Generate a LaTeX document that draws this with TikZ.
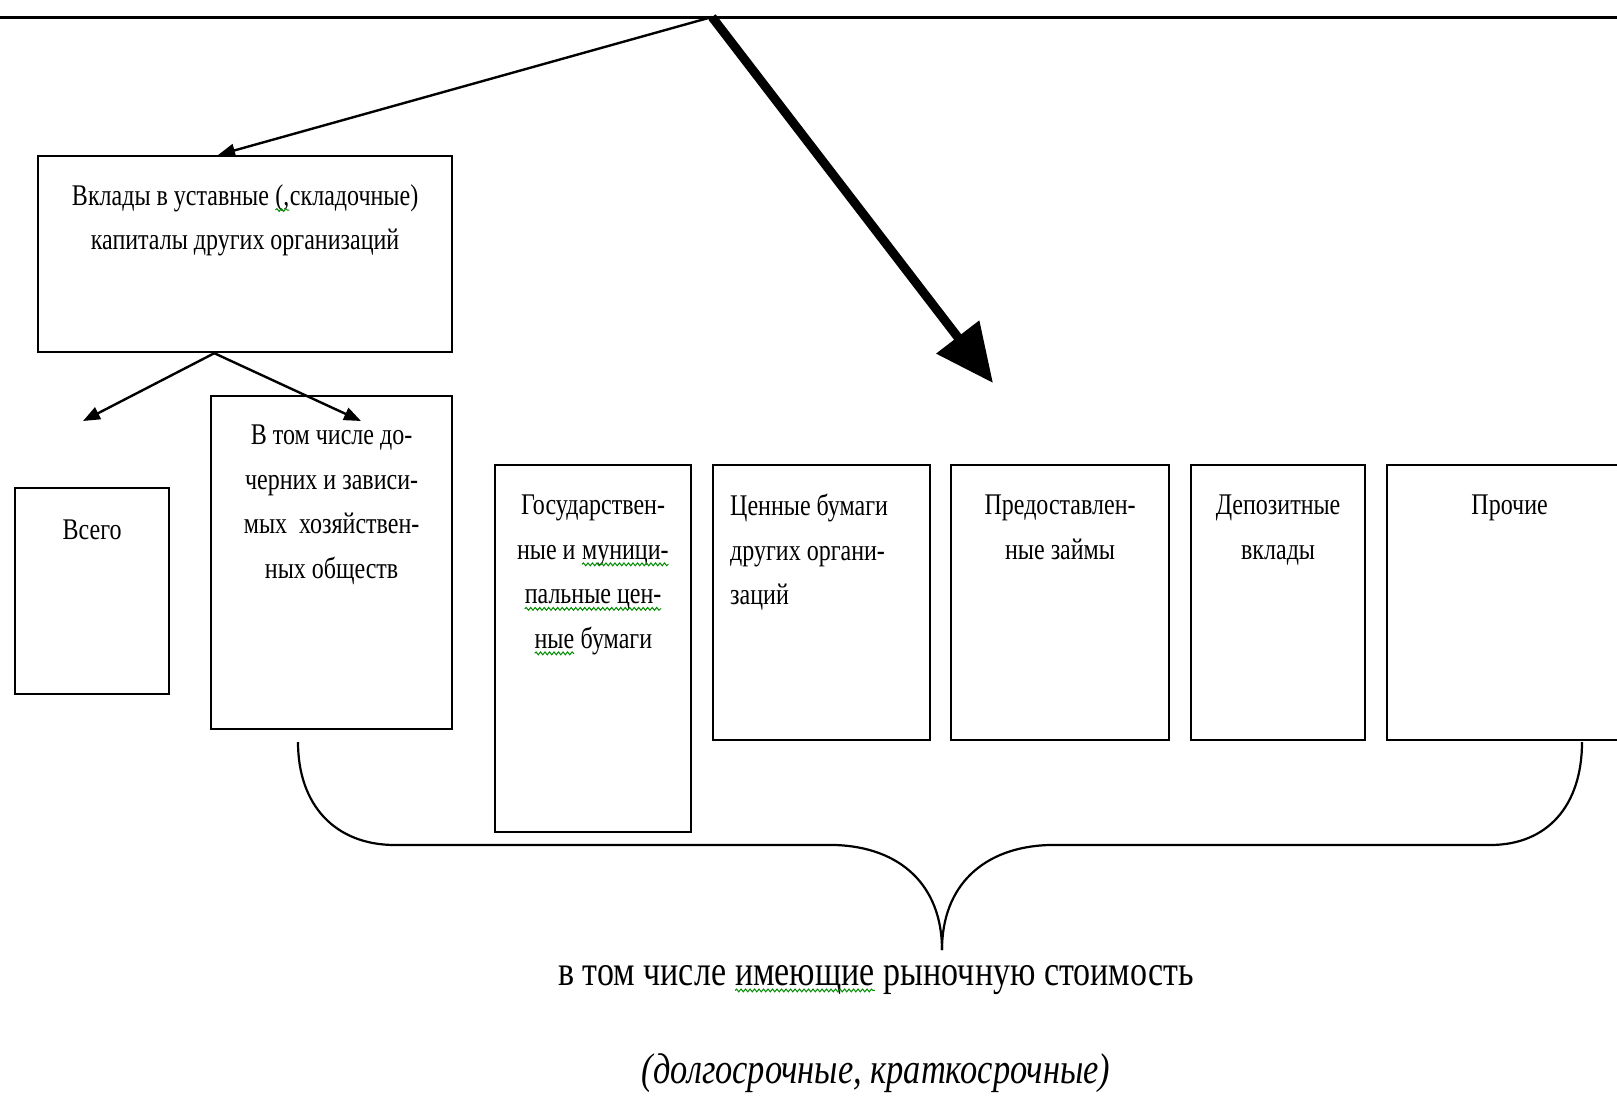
\documentclass[tikz,border=0pt]{standalone}
\usepackage{fontspec}
\setmainfont{Liberation Serif}[FakeStretch=0.8]
\usetikzlibrary{arrows.meta,calc,decorations.pathmorphing}

% spell-checker style wavy underline
\newcommand\wavy[2]{\tikz[baseline=(#1.base)]{\node[inner sep=0pt,outer sep=0pt] (#1) {#2};
  \draw[green!55!black,line width=1pt,decorate,decoration={snake,amplitude=1.4pt,segment length=4.5pt}]
    ([yshift=-5pt]#1.base west) -- ([yshift=-5pt]#1.base east);}}

\begin{document}
\begin{tikzpicture}[x=1pt,y=-1pt,
  box/.style={draw,line width=2.2pt,inner sep=0pt,anchor=north west},
  lbl/.style={font=\fontsize{30}{44.5}\selectfont,align=center,inner sep=0pt,anchor=north},
  thinarrow/.style={line width=2.4pt,-{Triangle[length=17pt,width=13pt]}},
  thickarrow/.style={line width=9pt,-{Triangle[length=58pt,width=52pt]}},
  brace/.style={line width=2.2pt},
  bigtext/.style={font=\fontsize{42.5}{50}\selectfont,inner sep=0pt},
]
\useasboundingbox[fill=white] (0,0) rectangle (1617,1095);

% top rule and the point where the arrows start
\coordinate (ruleL) at (0,17);
\coordinate (ruleR) at (1617,17);
\coordinate (apex) at (712,17);
\draw[line width=3pt] (ruleL) -- (ruleR);

% boxes
\node[box,minimum width=414pt,minimum height=196pt] (cap)   at (37,155)  {};
\node[box,minimum width=241pt,minimum height=333pt] (subs)  at (210,395) {};
\node[box,minimum width=154pt,minimum height=206pt] (total) at (14,487)  {};
\node[box,minimum width=196pt,minimum height=367pt] (gov)   at (494,464) {};
\node[box,minimum width=217pt,minimum height=275pt] (sec)   at (712,464) {};
\node[box,minimum width=218pt,minimum height=275pt] (loans) at (950,464) {};
\node[box,minimum width=174pt,minimum height=275pt] (dep)   at (1190,464) {};
\node[box,minimum width=245pt,minimum height=275pt] (other) at (1386,464) {};

% box texts
\node[lbl] (capT) at ($(cap.north)+(0,29)$) {Вклады в уставные \wavy{wc}{(,}складочные)\\капиталы других организаций};
\node[lbl] (subsT) at ($(subs.north)+(0,30)$) {В том числе до-\\черних и зависи-\\мых \ хозяйствен-\\ных обществ};
\node[lbl] (totalT) at ($(total.north)+(0,33)$) {Всего};
\node[lbl] (govT) at ($(gov.north)+(0,31)$) {Государствен-\\ные и \wavy{wg1}{муници-}\\\wavy{wg2}{пальные цен-}\\\wavy{wg3}{ные} бумаги};
\node[lbl,anchor=north west,align=left] (secT) at ($(sec.north west)+(18,30)$) {Ценные бумаги\\других органи-\\заций};
\node[lbl] (loansT) at ($(loans.north)+(0,31)$) {Предоставлен-\\ные займы};
\node[lbl] (depT) at ($(dep.north)+(0,31)$) {Депозитные\\вклады};
\node[lbl] (otherT) at ($(other.north)+(0,31)$) {Прочие};

% arrows
\draw[thinarrow] (apex) -- ($(cap.north west)!0.435!(cap.north east)$);
\coordinate (capout) at ($(cap.south west)!0.426!(cap.south east)$);
\coordinate (toTotal) at (83,421);
\coordinate (toSubs) at (361,421);
\draw[thinarrow] (capout) -- (toTotal);
\draw[thinarrow] (capout) -- (toSubs);
\coordinate (bigEnd) at (993,383);
\draw[thickarrow] (apex) -- (bigEnd);

% brace under the boxes
\coordinate (brL) at (298,742);
\coordinate (brTip) at (942,950);
\coordinate (brR) at (1582,742);
\draw[brace] (brL) .. controls (298,805) and (335,845) .. (395,845)
  -- (835,845) .. controls (900,847) and (942,885) .. (brTip);
\draw[brace] (brTip) .. controls (942,885) and (984,847) .. (1049,845)
  -- (1490,845) .. controls (1548,845) and (1582,805) .. (brR);

% caption
\node[bigtext] (cap1) at (876,980) {в том числе \wavy{wb}{имеющие} рыночную стоимость};
\node[bigtext,font=\fontsize{43}{50}\selectfont\itshape] (cap2) at (876,1073) {(долгосрочные, краткосрочные)};
\end{tikzpicture}
\end{document}
